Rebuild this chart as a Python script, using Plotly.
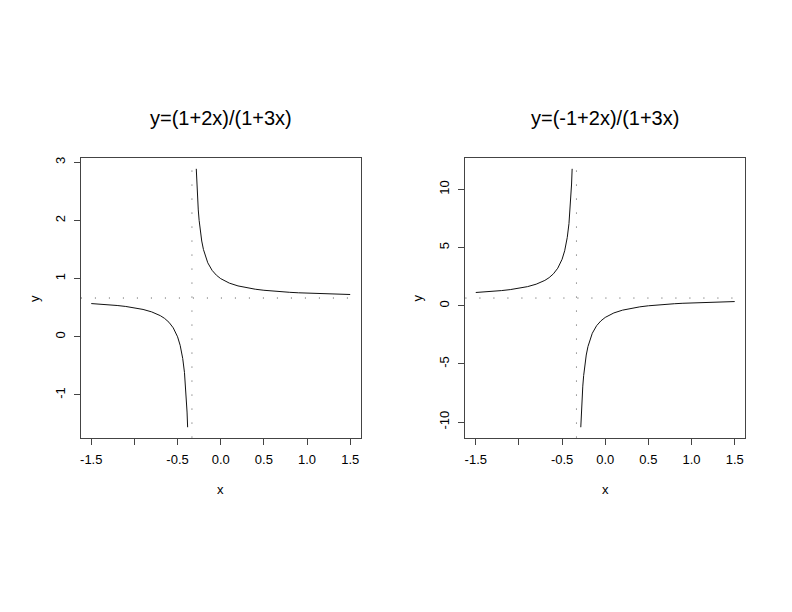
import plotly.graph_objects as go

# ---- data ----
x_left_branch = [-1.5, -1.4, -1.3, -1.2, -1.1, -1.0, -0.9, -0.8, -0.7, -0.65, -0.6, -0.55,
                 -0.5, -0.47, -0.44, -0.42, -0.40, -0.39, -0.3833]
x_right_branch = [-0.2833, -0.28, -0.27, -0.26, -0.25, -0.24, -0.23, -0.22, -0.2, -0.15, -0.1,
                  -0.05, 0.0, 0.1, 0.2, 0.3, 0.4, 0.5, 0.6, 0.7, 0.8, 0.9, 1.0, 1.1, 1.2, 1.3,
                  1.4, 1.5]

# panel 1: y=(1+2x)/(1+3x)
p1_left_y = [0.5714, 0.5625, 0.5517, 0.5385, 0.5217, 0.5, 0.4706, 0.4286, 0.3636, 0.3158, 0.25,
             0.1538, 0.0, -0.1463, -0.375, -0.6154, -1.0, -1.2941, -1.5556]
p1_right_y = [2.8889, 2.75, 2.4211, 2.1818, 2.0, 1.8571, 1.7419, 1.6471, 1.5, 1.2727, 1.1429,
              1.0588, 1.0, 0.9231, 0.875, 0.8421, 0.8182, 0.8, 0.7857, 0.7742, 0.7647, 0.7568,
              0.75, 0.7442, 0.7391, 0.7347, 0.7308, 0.7273]

# panel 2: y=(-1+2x)/(1+3x)
p2_left_y = [1.1429, 1.1875, 1.2414, 1.3077, 1.3913, 1.5, 1.6471, 1.8571, 2.1818, 2.4211, 2.75,
             3.2308, 4.0, 4.7317, 5.875, 7.0769, 9.0, 10.4706, 11.7778]
p2_right_y = [-10.4444, -9.75, -8.1053, -6.9091, -6.0, -5.2857, -4.7097, -4.2353, -3.5, -2.3636,
              -1.7143, -1.2941, -1.0, -0.6154, -0.375, -0.2105, -0.0909, 0.0, 0.0714, 0.1290,
              0.1765, 0.2162, 0.25, 0.2791, 0.3043, 0.3265, 0.3462, 0.3636]

asymptote_x = -1 / 3
asymptote_y = 2 / 3

titles = ["y=(1+2x)/(1+3x)", "y=(-1+2x)/(1+3x)"]
x_tickvals = [-1.5, -1.0, -0.5, 0.0, 0.5, 1.0, 1.5]
x_ticktext = ["-1.5", "", "-0.5", "0.0", "0.5", "1.0", "1.5"]
y1_tickvals = [-1, 0, 1, 2, 3]
y2_tickvals = [-10, -5, 0, 5, 10]

# ---- figure ----
FONT = "Liberation Sans, Arial, Helvetica, sans-serif"
W, H = 792, 612
dom_x1 = [80 / W, 360 / W]
dom_x2 = [465 / W, 745 / W]
dom_y = [1 - 437 / H, 1 - 157 / H]

fig = go.Figure()
line_style = dict(color="#111111", width=1)
for xs, ys, xa, ya in [(x_left_branch, p1_left_y, "x", "y"),
                       (x_right_branch, p1_right_y, "x", "y"),
                       (x_left_branch, p2_left_y, "x2", "y2"),
                       (x_right_branch, p2_right_y, "x2", "y2")]:
    fig.add_trace(go.Scatter(x=xs, y=ys, mode="lines", line=line_style,
                             xaxis=xa, yaxis=ya, showlegend=False, hoverinfo="skip"))

dot = dict(color="#555555", width=1, dash="1px,13px")
shapes = []
for xr, yr in [("x", "y"), ("x2", "y2")]:
    shapes.append(dict(type="line", xref=xr, yref=yr + " domain", x0=asymptote_x, x1=asymptote_x,
                       y0=0, y1=1, line=dot, layer="below"))
    shapes.append(dict(type="line", xref=xr + " domain", yref=yr, x0=0, x1=1,
                       y0=asymptote_y, y1=asymptote_y, line=dot, layer="below"))

axis_common = dict(showline=True, mirror=True, linecolor="#444444", linewidth=1,
                   ticks="outside", ticklen=6, tickcolor="#444444", tickwidth=1,
                   showgrid=False, zeroline=False, ticklabelstandoff=4,
                   tickfont=dict(family=FONT, size=13, color="#000000"))

fig.update_layout(
    width=W, height=H,
    margin=dict(l=0, r=0, t=0, b=0),
    paper_bgcolor="white", plot_bgcolor="white",
    shapes=shapes,
    xaxis=dict(domain=dom_x1, range=[-1.62, 1.62], anchor="y",
               tickvals=x_tickvals, ticktext=x_ticktext, **axis_common),
    yaxis=dict(domain=dom_y, range=[-1.7333, 3.0667], anchor="x",
               tickvals=y1_tickvals, ticktext=[str(v) for v in y1_tickvals],
               tickangle=-90, **axis_common),
    xaxis2=dict(domain=dom_x2, range=[-1.62, 1.62], anchor="y2",
                tickvals=x_tickvals, ticktext=x_ticktext, **axis_common),
    yaxis2=dict(domain=dom_y, range=[-11.333, 12.667], anchor="x2",
                tickvals=y2_tickvals, ticktext=[str(v) for v in y2_tickvals],
                tickangle=-90, **axis_common),
)

annots = []
for i, (cx, ylab_x) in enumerate([(220, 33), (605, 417)]):
    annots.append(dict(text=titles[i], x=cx / W, y=1 - 116 / H, xref="paper", yref="paper",
                       showarrow=False, xanchor="center", yanchor="middle",
                       font=dict(family=FONT, size=20, color="#000000")))
    annots.append(dict(text="x", x=cx / W, y=1 - 489 / H, xref="paper", yref="paper",
                       showarrow=False, xanchor="center", yanchor="middle",
                       font=dict(family=FONT, size=13, color="#000000")))
    annots.append(dict(text="y", x=ylab_x / W, y=1 - 297 / H, xref="paper", yref="paper",
                       showarrow=False, xanchor="center", yanchor="middle", textangle=-90,
                       font=dict(family=FONT, size=13, color="#000000")))
fig.update_layout(annotations=annots)

fig.write_html("out.html", config={"displayModeBar": False},
               post_script="document.body.style.margin='0';document.body.style.padding='0';")
